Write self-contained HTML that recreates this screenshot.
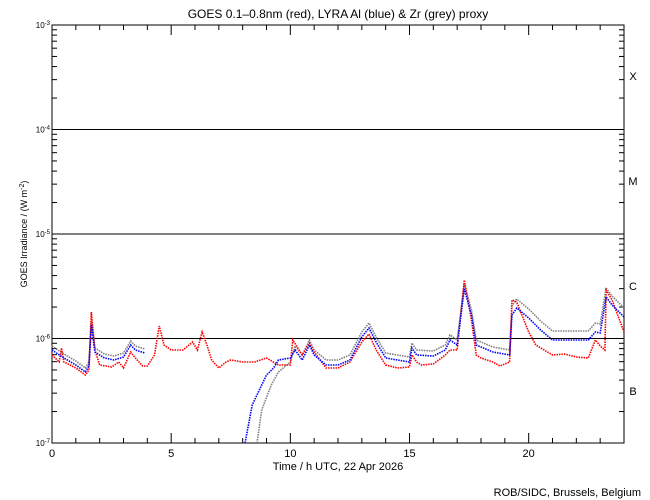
<!DOCTYPE html>
<html><head><meta charset="utf-8"><style>
body{margin:0;background:#fff;}
svg{display:block;font-family:"Liberation Sans",sans-serif;}
</style></head><body>
<svg id="s" width="650" height="500" viewBox="0 0 650 500" xmlns="http://www.w3.org/2000/svg">
<rect width="650" height="500" fill="#fff"/>
<text x="338" y="18" font-size="12" text-anchor="middle">GOES 0.1–0.8nm (red), LYRA Al (blue) &amp; Zr (grey) proxy</text>
<text x="338" y="470" font-size="11" text-anchor="middle">Time / h UTC, 22 Apr 2026</text>
<text x="641" y="496" font-size="11" text-anchor="end">ROB/SIDC, Brussels, Belgium</text>
<text transform="translate(27,234) rotate(-90)" font-size="9" text-anchor="middle">GOES Irradiance / (W m<tspan baseline-shift="super" font-size="7">-2</tspan>)</text>
<g font-size="11" text-anchor="middle">
<text x="633" y="80">X</text><text x="633" y="185">M</text><text x="633" y="290">C</text><text x="633" y="395">B</text>
</g>
<g id="ax" stroke="#000" fill="none" stroke-width="1"></g>
<g id="dat" fill="none" stroke-width="1.6" stroke-dasharray="1.5 1"></g>
</svg>
<script>
var ns="http://www.w3.org/2000/svg",L=52,R=624,T=25,B=443,D=104.5;
function X(h){return L+h*(R-L)/24;}
var ax=document.getElementById('ax'),s=document.getElementById('s');
function ln(x1,y1,x2,y2,p){var e=document.createElementNS(ns,'line');e.setAttribute('x1',x1);e.setAttribute('y1',y1);e.setAttribute('x2',x2);e.setAttribute('y2',y2);(p||ax).appendChild(e);}
function tx(x,y,t,a,fs){var e=document.createElementNS(ns,'text');e.setAttribute('x',x);e.setAttribute('y',y);e.setAttribute('font-size',fs||11);e.setAttribute('text-anchor',a||'middle');e.innerHTML=t;s.appendChild(e);}
var r=document.createElementNS(ns,'rect');r.setAttribute('x',L);r.setAttribute('y',T);r.setAttribute('width',R-L);r.setAttribute('height',B-T);ax.appendChild(r);
for(var d=0;d<4;d++){var yb=B-d*D;for(var k=2;k<10;k++){var y=yb-Math.log10(k)*D;ln(L,y,L+5,y);ln(R,y,R-5,y);}}
for(var d=1;d<4;d++){var y=B-d*D;ln(L,y,R,y);}
for(var d=0;d<=4;d++){var y=B-d*D;tx(L-2,y+3,'10<tspan baseline-shift="super" font-size="6">'+(-7+d)+'</tspan>','end',8);}
for(var h=0;h<=24;h++){var x=X(h),l=h%5==0?10:5;ln(x,B,x,B-l);ln(x,T,x,T+l);if(h%5==0&&h<24)tx(x,B+14,h,'middle',11);}
var red=[[0,355],[0.3,362],[0.4,348],[0.5,362],[1,368],[1.4,375],[1.55,370],[1.65,312],[1.8,350],[2,365],[2.5,367],[2.8,362],[3,368],[3.3,352],[3.5,358],[3.8,366],[4,366],[4.3,355],[4.5,326],[4.7,345],[5,350],[5.5,350],[5.9,342],[6.1,350],[6.3,332],[6.5,345],[6.7,360],[7,368],[7.3,362],[7.5,360],[8,362],[8.5,362],[9,358],[9.5,365],[10,365],[10.1,340],[10.5,355],[10.8,343],[11,352],[11.5,368],[12,368],[12.5,362],[13,342],[13.3,334],[13.6,350],[14,365],[14.5,368],[15,367],[15.1,355],[15.3,362],[15.5,365],[16,364],[16.5,355],[16.7,350],[17,350],[17.3,280],[17.6,320],[17.8,355],[18,358],[18.5,362],[18.8,366],[19.2,362],[19.3,300],[19.5,302],[19.8,320],[20,332],[20.3,345],[21,355],[21.5,354],[22,357],[22.5,358],[22.8,340],[23,346],[23.2,350],[23.25,290],[23.5,300],[24,332]];
var blue1=[[0,350],[0.5,358],[1,365],[1.4,372],[1.55,366],[1.65,325],[1.8,352],[2.2,358],[2.6,360],[3,357],[3.3,345],[3.5,350],[3.9,353]];
var blue2=[[8.1,443],[8.4,405],[8.7,390],[9,375],[9.3,368],[9.5,360],[10,358],[10.2,350],[10.5,360],[10.8,345],[11,355],[11.5,365],[12,365],[12.5,360],[13,337],[13.3,328],[13.6,342],[14,358],[15,362],[15.1,348],[15.3,355],[16,356],[16.5,350],[16.7,340],[17,345],[17.3,289],[17.6,315],[17.8,345],[18.5,352],[19.2,355],[19.3,315],[19.5,308],[20,318],[20.5,330],[21,340],[22,340],[22.5,340],[22.8,332],[23,333],[23.25,297],[23.5,305],[24,317]];
var grey1=blue1.map(function(p){return [p[0],p[1]-4];});
var grey2=[[8.6,443],[8.8,410],[9.2,385],[9.5,372],[10,362],[10.2,346]].concat(blue2.slice(8).map(function(p){return [p[0],p[1]-(p[0]>19.2?9:5)];}));
var dat=document.getElementById('dat');
function pl(a,c){var e=document.createElementNS(ns,'polyline');e.setAttribute('points',a.map(function(p){return X(p[0])+','+p[1];}).join(' '));e.setAttribute('stroke',c);dat.appendChild(e);}
pl(grey1,'#808080');pl(grey2,'#808080');pl(red,'#ff0000');pl(blue1,'#0000ff');pl(blue2,'#0000ff');
</script>
</body></html>
